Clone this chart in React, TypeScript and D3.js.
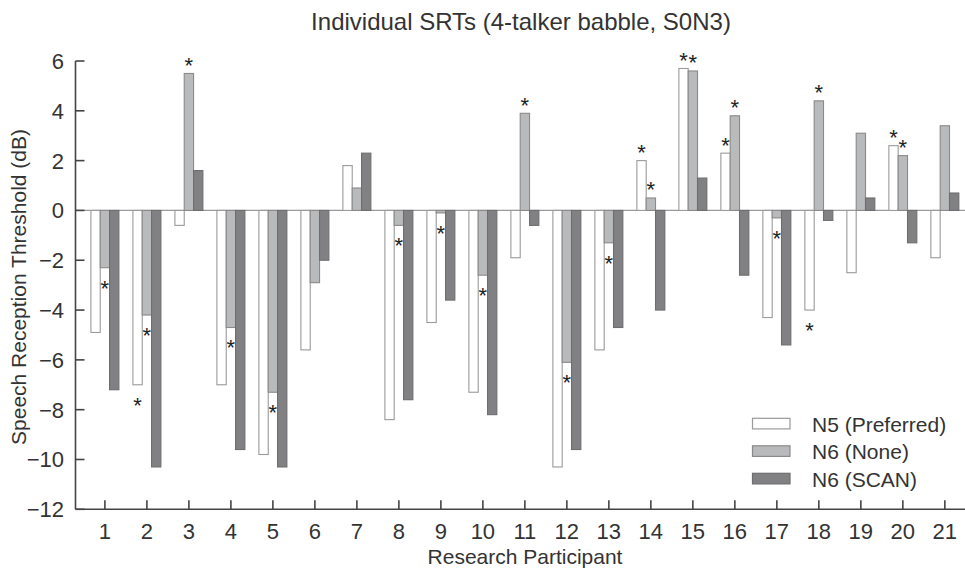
import React from "react";
import * as d3 from "d3";

const participants = [1, 2, 3, 4, 5, 6, 7, 8, 9, 10, 11, 12, 13, 14, 15, 16, 17, 18, 19, 20, 21];
const seriesNames = ["N5 (Preferred)", "N6 (None)", "N6 (SCAN)"];

const n5Preferred = [-4.9, -7.0, -0.6, -7.0, -9.8, -5.6, 1.8, -8.4, -4.5, -7.3, -1.9, -10.3, -5.6, 2.0, 5.7, 2.3, -4.3, -4.0, -2.5, 2.6, -1.9];
const n6None = [-2.3, -4.2, 5.5, -4.7, -7.3, -2.9, 0.9, -0.6, -0.1, -2.6, 3.9, -6.1, -1.3, 0.5, 5.6, 3.8, -0.3, 4.4, 3.1, 2.2, 3.4];
const n6Scan = [-7.2, -10.3, 1.6, -9.6, -10.3, -2.0, 2.3, -7.6, -3.6, -8.2, -0.6, -9.6, -4.7, -4.0, 1.3, -2.6, -5.4, -0.4, 0.5, -1.3, 0.7];

// significance markers (asterisks)
const starN5 = [0, 1, 0, 0, 0, 0, 0, 0, 0, 0, 0, 0, 0, 1, 1, 1, 0, 1, 0, 1, 0];
const starN6None = [1, 1, 1, 1, 1, 0, 0, 1, 1, 1, 1, 1, 1, 1, 1, 1, 1, 1, 0, 1, 0];
const starN6Scan = [0, 0, 0, 0, 0, 0, 0, 0, 0, 0, 0, 0, 0, 0, 0, 0, 0, 0, 0, 0, 0];

const yTicks = [-12, -10, -8, -6, -4, -2, 0, 2, 4, 6];
const yDomain = [-12, 6];

const title = "Individual SRTs (4-talker babble, S0N3)";
const xTitle = "Research Participant";
const yTitle = "Speech Reception Threshold (dB)";

const fills = ["#ffffff", "#b9babc", "#818184"];
const strokes = ["#9a9a9a", "#8a8a8a", "#6e6e70"];

const FONT = "'Liberation Sans', Arial, Helvetica, sans-serif";
const TXT = "#333";

export default function App() {
  const W = 965;
  const H = 570;
  const left = 75.5;
  const right = 965;
  const top = 61;
  const bottom = 509.3;

  const x = d3.scaleLinear().domain([0.3, 21.48]).range([left, right]);
  const y = d3.scaleLinear().domain(yDomain).range([bottom, top]);
  const bw = x(1.222) - x(1);
  const sub = d3.scaleBand().domain(seriesNames).range([-1.5 * bw, 1.5 * bw]).padding(0);

  const values = [n5Preferred, n6None, n6Scan];
  const stars = [starN5, starN6None, starN6Scan];

  const bars: React.ReactNode[] = [];
  const starMarks: React.ReactNode[] = [];
  values.forEach((vals, s) => {
    vals.forEach((v, i) => {
      const px = x(participants[i]) + (sub(seriesNames[s]) as number);
      const y0 = y(0);
      const yv = y(v);
      bars.push(
        <rect
          key={`b${s}-${i}`}
          x={px}
          y={Math.min(y0, yv)}
          width={sub.bandwidth()}
          height={Math.abs(yv - y0)}
          fill={fills[s]}
          stroke={strokes[s]}
          strokeWidth={1.1}
        />
      );
      if (stars[s][i]) {
        const cx = px + sub.bandwidth() / 2;
        const cy = v >= 0 ? yv - 12.5 : yv + 16;
        starMarks.push(
          <text
            key={`s${s}-${i}`}
            x={cx}
            y={cy + 12}
            textAnchor="middle"
            fontSize={22}
            fontFamily={FONT}
            fill="#222"
          >
            *
          </text>
        );
      }
    });
  });

  const fmt = d3.format("d");

  return (
    <svg
      width={W}
      height={H}
      style={{ position: "absolute", left: 0, top: 0, background: "#fff" }}
    >
      <text x={521} y={30} textAnchor="middle" fontSize={24} fontFamily={FONT} fill={TXT}>
        {title}
      </text>

      {/* zero line */}
      <line x1={left} x2={right} y1={y(0)} y2={y(0)} stroke="#9a9a9a" strokeWidth={1.3} />

      {bars}
      {starMarks}

      {/* y axis */}
      <line x1={left} x2={left} y1={y(yDomain[1])} y2={y(yDomain[0])} stroke="#444" strokeWidth={1.6} />
      {yTicks.map((t) => (
        <g key={`yt${t}`}>
          <line x1={left} x2={left + 9} y1={y(t)} y2={y(t)} stroke="#444" strokeWidth={1.6} />
          <text
            x={64}
            y={y(t)}
            dy="0.36em"
            textAnchor="end"
            fontSize={22}
            fontFamily={FONT}
            fill={TXT}
          >
            {fmt(t)}
          </text>
        </g>
      ))}

      {/* x axis */}
      <line x1={left} x2={right} y1={bottom} y2={bottom} stroke="#444" strokeWidth={1.6} />
      {participants.map((p) => (
        <g key={`xt${p}`}>
          <line x1={x(p)} x2={x(p)} y1={bottom} y2={bottom - 9} stroke="#444" strokeWidth={1.6} />
          <text x={x(p)} y={539} textAnchor="middle" fontSize={22} fontFamily={FONT} fill={TXT}>
            {p}
          </text>
        </g>
      ))}

      <text x={525} y={564} textAnchor="middle" fontSize={21} fontFamily={FONT} fill={TXT}>
        {xTitle}
      </text>
      <text
        transform={`translate(26,287) rotate(-90)`}
        textAnchor="middle"
        fontSize={21}
        fontFamily={FONT}
        fill={TXT}
      >
        {yTitle}
      </text>

      {/* legend */}
      {seriesNames.map((name, s) => {
        const cy = 423.6 + s * 27.5;
        return (
          <g key={`lg${s}`}>
            <rect x={752.5} y={cy - 5.3} width={37.5} height={10.6} fill={fills[s]} stroke={strokes[s]} strokeWidth={1.2} />
            <text x={812} y={cy + 8} fontSize={21} fontFamily={FONT} fill={TXT}>
              {name}
            </text>
          </g>
        );
      })}
    </svg>
  );
}
